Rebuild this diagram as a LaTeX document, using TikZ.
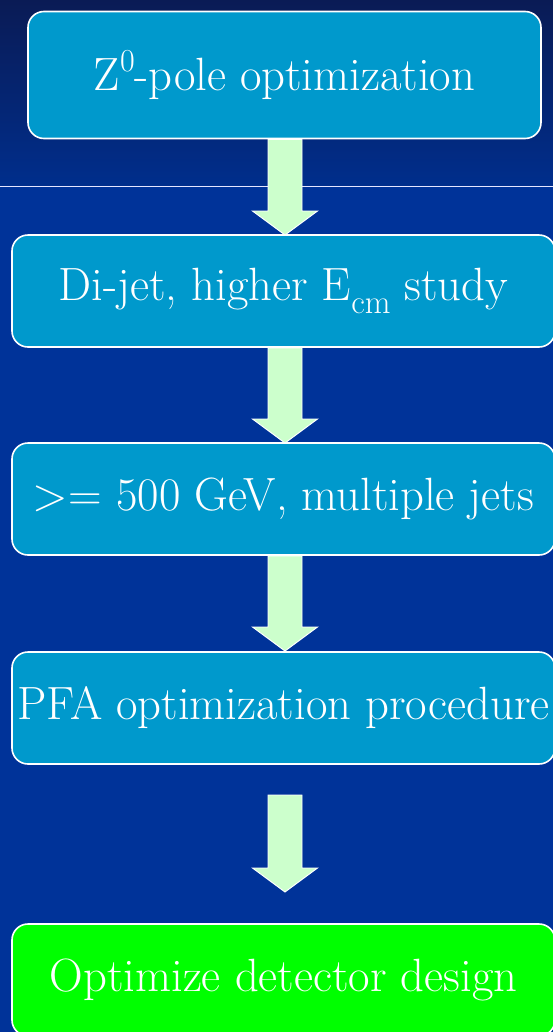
\documentclass[tikz,border=0pt]{standalone}
\usetikzlibrary{calc}
\definecolor{navytop}{RGB}{10,27,85}
\definecolor{navymid}{RGB}{0,46,140}
\definecolor{panelblue}{RGB}{0,51,153}
\definecolor{boxblue}{RGB}{0,153,204}
\definecolor{arrowgreen}{RGB}{204,255,204}
\definecolor{goalgreen}{RGB}{0,255,0}
\tikzset{
  stagebox/.style={draw=white, line width=1.2pt, rounded corners=12pt,
    fill=boxblue, text=white, inner sep=0pt, align=center,
    font=\fontsize{35}{42}\selectfont},
  goalbox/.style={stagebox, fill=goalgreen},
  blockarrow/.style={fill=arrowgreen, draw=white, line width=0.7pt, line join=miter},
}
% large raised / lowered indices, as set in the slide font
\newcommand\upidx[1]{\raisebox{0.42em}{\fontsize{24}{24}\selectfont #1}}
\newcommand\downidx[1]{\raisebox{-0.28em}{\fontsize{25}{25}\selectfont #1}}
% block arrow from the top of the shaft (#1) to the tip (#2)
\newcommand\flowarrow[2]{%
  \filldraw[blockarrow]
    ($(#1 -| #2)+(-17,0)$) -- ($(#2)+(-17,-24)$) -- ($(#2)+(-32.5,-24)$)
    -- (#2) -- ($(#2)+(32.5,-24)$) -- ($(#2)+(17,-24)$)
    -- ($(#1 -| #2)+(17,0)$) -- cycle;}
\begin{document}
\begin{tikzpicture}[x=0.75pt,y=-0.75pt]
\useasboundingbox (0,0) rectangle (553,1032);
\clip (0,0) rectangle (553,1032);
% background: dark gradient band above the rule, flat blue below
\fill[panelblue] (0,0) rectangle (553,1032);
\shade[top color=navytop, bottom color=navymid] (0,0) rectangle (553,186);
\draw[white!90!blue, line width=1.3pt] (0,186.5) -- (553,186.5);

% stages
\node[stagebox, minimum width=513*0.75pt, minimum height=127*0.75pt]
  (zpole) at (284.5,75) {Z\upidx{0}-pole optimization};
\node[stagebox, minimum width=543*0.75pt, minimum height=112*0.75pt]
  (dijet) at (283.5,291) {Di-jet, higher E\downidx{cm} study};
\node[stagebox, minimum width=543*0.75pt, minimum height=112*0.75pt]
  (multi) at (283.5,499) {>= 500 GeV, multiple jets};
\node[stagebox, minimum width=543*0.75pt, minimum height=112*0.75pt]
  (pfa) at (283.5,708) {PFA optimization procedure};
\node[goalbox, minimum width=543*0.75pt, minimum height=112*0.75pt]
  (goal) at (283.5,980) {Optimize detector design};

% connectors
\coordinate (gapTop) at (285,795);
\coordinate (gapTip) at (285,892);
\coordinate (t1) at (285,235);
\coordinate (t2) at (285,443);
\coordinate (t3) at (285,651);
\flowarrow{zpole.south}{t1}
\flowarrow{dijet.south}{t2}
\flowarrow{multi.south}{t3}
\flowarrow{gapTop}{gapTip}
\end{tikzpicture}
\end{document}
